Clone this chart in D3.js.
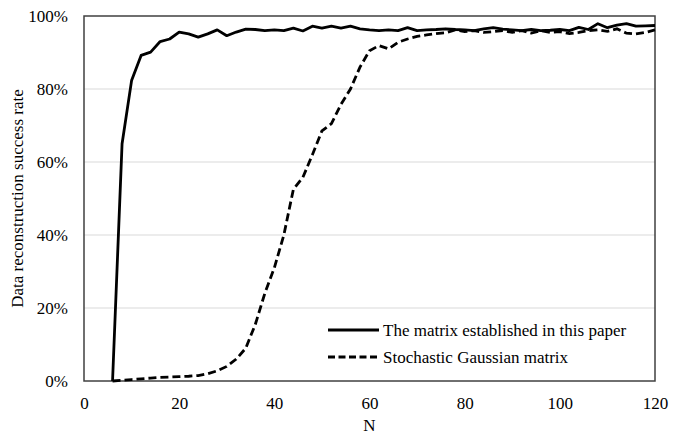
<!DOCTYPE html>
<html>
<head>
<meta charset="utf-8">
<script src="https://cdn.jsdelivr.net/npm/d3@7"></script>
<style>
  body { margin: 0; background: #fff; }
  svg text { font-family: "Liberation Serif", "Times New Roman", serif; fill: #000; }
</style>
</head>
<body>
<svg id="chart" width="686" height="434"></svg>
<script>
// N values (every 2 from 6 to 120)
var nValues = d3.range(6, 121, 2);

// success rate (%) - matrix established in this paper
var proposed = [0, 65, 82.3, 89.2, 90.1, 93, 93.7, 95.6, 95.1, 94.2, 95.1, 96.2, 94.6, 95.6, 96.4,
  96.3, 96, 96.2, 96, 96.7, 95.9, 97.2, 96.7, 97.2, 96.7, 97.2, 96.5, 96.2, 96, 96.2, 96, 96.8,
  96, 96.2, 96.3, 96.5, 96.3, 96.2, 96, 96.5, 96.8, 96.4, 96.2, 96, 96.3, 96, 96.1, 96.3, 96,
  96.9, 96.3, 97.9, 96.8, 97.5, 97.9, 97.2, 97.3, 97.4];

// success rate (%) - stochastic Gaussian matrix
var gaussian = [0, 0.2, 0.4, 0.6, 0.8, 1.0, 1.1, 1.2, 1.3, 1.5, 2.0, 2.8, 4.0, 6.0, 9.0,
  15.5, 24, 31, 40, 52.5, 55.8, 62, 68.5, 70.5, 75.8, 80, 86, 90.5, 91.9, 91, 92.8, 93.7,
  94.4, 94.8, 95.2, 95.4, 96.2, 95.7, 96, 95.5, 95.7, 96, 95.5, 96, 95.3, 96, 95.5, 95.7, 95.2,
  95.5, 96, 96.2, 95.8, 96.5, 95.3, 95.1, 95.5, 96.2];

var xTicks = [0, 20, 40, 60, 80, 100, 120];
var yTicks = [0, 20, 40, 60, 80, 100];
var seriesNames = ["The matrix established in this paper", "Stochastic Gaussian matrix"];

var margin = {top: 16, right: 31, bottom: 53, left: 84},
  w = 686 - margin.left - margin.right,
  h = 434 - margin.top - margin.bottom,
  fontSize = '17px';

var svg = d3.select('#chart');
var g = svg.append('g').attr('transform', 'translate(' + margin.left + ',' + margin.top + ')');

var x = d3.scaleLinear().domain([0, 120]).range([0, w]);
var y = d3.scaleLinear().domain([0, 100]).range([h, 0]);

// gridlines
g.selectAll('line.grid')
  .data(yTicks.filter(function(d) { return d > 0 && d < 100; }))
  .enter().append('line')
  .attr('class', 'grid')
  .attr('x1', 0).attr('x2', w)
  .attr('y1', function(d) { return y(d); })
  .attr('y2', function(d) { return y(d); })
  .style('stroke', '#d9d9d9')
  .style('stroke-width', 1);

// axes (labels only, no tick marks)
var xAxis = g.append('g')
  .attr('transform', 'translate(0,' + h + ')')
  .call(d3.axisBottom(x).tickValues(xTicks).tickSize(0).tickPadding(16));
var yAxis = g.append('g')
  .call(d3.axisLeft(y).tickValues(yTicks).tickSize(0).tickPadding(16)
    .tickFormat(function(d) { return d + '%'; }));
[xAxis, yAxis].forEach(function(a) {
  a.select('.domain').remove();
  a.selectAll('text').style('font-size', fontSize).style('font-family', '"Liberation Serif", serif');
});

// frame
g.append('rect')
  .attr('x', 0).attr('y', 0).attr('width', w).attr('height', h)
  .style('fill', 'none').style('stroke', '#404040').style('stroke-width', 1.5);

var line = d3.line()
  .x(function(d) { return x(d[0]); })
  .y(function(d) { return y(d[1]); });

g.append('path')
  .datum(d3.zip(nValues, gaussian))
  .attr('d', line)
  .style('fill', 'none').style('stroke', '#000').style('stroke-width', 2.8)
  .style('stroke-dasharray', '8,4');

g.append('path')
  .datum(d3.zip(nValues, proposed))
  .attr('d', line)
  .style('fill', 'none').style('stroke', '#000').style('stroke-width', 2.8)
  .style('stroke-linejoin', 'round');

// legend
var legend = g.selectAll('g.legend')
  .data(seriesNames)
  .enter().append('g')
  .attr('class', 'legend')
  .attr('transform', function(d, i) { return 'translate(' + (328 - margin.left) + ',' + (330 - margin.top + i * 27) + ')'; });
legend.append('line')
  .attr('x1', 0).attr('x2', 51)
  .style('stroke', '#000').style('stroke-width', 2.8)
  .style('stroke-dasharray', function(d, i) { return i ? '7,3.5' : null; });
legend.append('text')
  .attr('x', 55).attr('dy', '0.35em')
  .style('font-size', fontSize)
  .text(function(d) { return d; });

// axis titles
svg.append('text')
  .attr('x', margin.left + w / 2).attr('y', 431)
  .attr('text-anchor', 'middle')
  .style('font-size', fontSize)
  .text('N');
svg.append('text')
  .attr('transform', 'translate(23,' + (margin.top + h / 2) + ') rotate(-90)')
  .attr('text-anchor', 'middle')
  .style('font-size', fontSize)
  .text('Data reconstruction success rate');
</script>
</body>
</html>
